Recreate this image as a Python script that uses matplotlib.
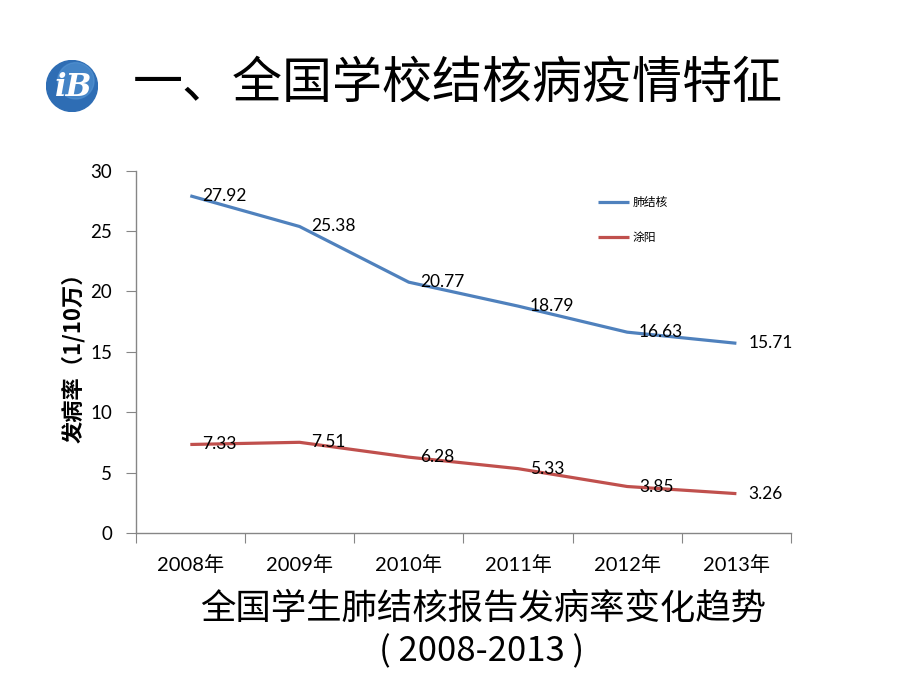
import matplotlib
matplotlib.use("Agg")
import matplotlib.pyplot as plt
import numpy as np
from matplotlib.patches import Circle

plt.rcParams['font.family'] = ['Lato', 'Noto Sans CJK SC', 'DejaVu Sans']

years = ["2008年", "2009年", "2010年", "2011年", "2012年", "2013年"]
tb_rate = [27.92, 25.38, 20.77, 18.79, 16.63, 15.71]
smear_pos = [7.33, 7.51, 6.28, 5.33, 3.85, 3.26]
series_names = ["肺结核", "涂阳"]
colors = ["#4F81BD", "#C0504D"]

title = "一、全国学校结核病疫情特征"
caption1 = "全国学生肺结核报告发病率变化趋势"
caption2 = "( 2008-2013 )"
ylabel = "发病率（1/10万）"

W, H = 920, 690
fig = plt.figure(figsize=(W / 100, H / 100), dpi=100)
fig.patch.set_facecolor("white")

ax = fig.add_axes([135.7 / W, 1 - 533 / H, (791 - 135.7) / W, (533 - 170.7) / H])
x = np.arange(len(years))
for vals, c, name in zip([tb_rate, smear_pos], colors, series_names):
    ax.plot(x, vals, color=c, lw=2.3, solid_capstyle='butt', label=name)
    for xi, v in zip(x, vals):
        ax.annotate(f"{v:.2f}", (xi, v), xytext=(8.5, 0), textcoords="offset points",
                    ha="left", va="center", fontsize=12.5, color="black",
                    family=['Lato', 'Noto Sans CJK SC'])

ax.set_xlim(-0.5, len(years) - 0.5)
ax.set_ylim(0, 30)
ax.set_yticks(np.arange(0, 31, 5))
ax.set_xticks(np.arange(-0.5, len(years), 1))
ax.set_xticklabels([])
ax.set_xticks(x, minor=True)
ax.set_xticklabels(years, minor=True)
ax.tick_params(axis='x', which='major', length=7, color="#868686", direction='out')
ax.tick_params(axis='x', which='minor', length=0, pad=16, labelsize=14.5)
ax.tick_params(axis='y', length=7, color="#868686", pad=10, labelsize=13.5)
for s in ["top", "right"]:
    ax.spines[s].set_visible(False)
for s in ["left", "bottom"]:
    ax.spines[s].set_color("#868686")
    ax.spines[s].set_linewidth(1.0)

leg = ax.legend(loc="upper left", bbox_to_anchor=(0.69, 0.96), frameon=False,
                prop={'family': 'Noto Sans CJK SC', 'size': 8.5},
                handlelength=2.6, handletextpad=0.3, labelspacing=1.9)

fig.text(73 / W, 1 - 352 / H, ylabel, rotation=90, ha="center", va="center",
         fontsize=16, fontweight="bold", family=['Noto Sans CJK SC'])

fig.text(133 / W, 1 - 84 / H, title, ha="left", va="center", fontsize=36,
         family=['Noto Sans CJK SC'], color="black")

fig.text(483 / W, 1 - 609 / H, caption1, ha="center", va="center", fontsize=25.5,
         family=['Noto Sans CJK SC'], color="black")
fig.text(482 / W, 1 - 652 / H, caption2, ha="center", va="center", fontsize=25,
         family=['Noto Sans CJK SC'], color="black")

# logo
lax = fig.add_axes([44 / W, 1 - 112 / H, 56 / W, 52 / H])
lax.set_xlim(-1, 1); lax.set_ylim(-1, 1); lax.set_aspect('equal'); lax.axis('off')
lax.add_patch(Circle((0, 0), 0.98, color="#2E6DB4"))
lax.add_patch(Circle((0.15, 0.2), 0.7, color="#5B9BD8", alpha=0.5))
lax.text(0.05, -0.05, "iB", ha="center", va="center", fontsize=22, color="white",
         fontweight="bold", style="italic", family=['DejaVu Serif'])

fig.savefig("out.png", dpi=100, facecolor="white")
